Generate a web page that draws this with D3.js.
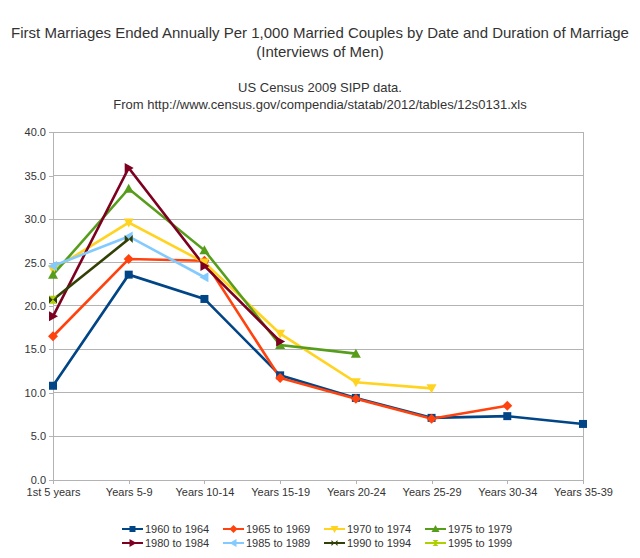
<!DOCTYPE html>
<html><head><meta charset="utf-8">
<script src="https://cdn.jsdelivr.net/npm/d3@7"></script>
<style>body{margin:0;background:#fff}svg{display:block}text{font-family:"Liberation Sans",Arial,sans-serif}</style>
</head><body><svg id="c" width="640" height="558"></svg>
<script>
const categories = ["1st 5 years","Years 5-9","Years 10-14","Years 15-19","Years 20-24","Years 25-29","Years 30-34","Years 35-39"];
const seriesNames = ["1960 to 1964","1965 to 1969","1970 to 1974","1975 to 1979","1980 to 1984","1985 to 1989","1990 to 1994","1995 to 1999"];
const s1960 = [10.8, 23.6, 20.8, 12.0, 9.4, 7.1, 7.3, 6.4];
const s1965 = [16.5, 25.4, 25.2, 11.7, 9.3, 7.0, 8.5];
const s1970 = [24.2, 29.6, 25.0, 16.8, 11.2, 10.5];
const s1975 = [23.6, 33.5, 26.4, 15.5, 14.5];
const s1980 = [18.8, 35.9, 24.6, 15.9];
const s1985 = [24.6, 28.0, 23.3];
const s1990 = [20.7, 27.7];
const s1995 = [20.7];
const yTicks = [0,5,10,15,20,25,30,35,40];
const colors = ["#004586","#ff420e","#ffd320","#579d1c","#7e0021","#83caff","#314004","#aecf00"];
const markers = ["square","diamond","down","up","right","left","bowtie","hourglass"];
const allSeries = [s1960,s1965,s1970,s1975,s1980,s1985,s1990,s1995];

const svg = d3.select("#c");
const x = d3.scalePoint().domain(categories).range([53,583]);
const y = d3.scaleLinear().domain([0,40]).range([479.5,132.3]);

// titles
const tc = "#333";
svg.append("text").attr("x",320).attr("y",38).attr("text-anchor","middle").attr("font-size",15).attr("fill",tc)
  .text("First Marriages Ended Annually Per 1,000 Married Couples by Date and Duration of Marriage");
svg.append("text").attr("x",320).attr("y",57).attr("text-anchor","middle").attr("font-size",15).attr("fill",tc)
  .text("(Interviews of Men)");
svg.append("text").attr("x",320).attr("y",92).attr("text-anchor","middle").attr("font-size",13).attr("fill",tc)
  .text("US Census 2009 SIPP data.");
svg.append("text").attr("x",320).attr("y",109).attr("text-anchor","middle").attr("font-size",13).attr("fill",tc)
  .text("From http://www.census.gov/compendia/statab/2012/tables/12s0131.xls");

// grid
svg.append("g").selectAll("line").data(yTicks.filter(d=>d>0)).join("line")
  .attr("x1",53).attr("x2",583).attr("y1",d=>y(d)).attr("y2",d=>y(d))
  .attr("stroke","#b3b3b3").attr("stroke-width",1).attr("shape-rendering","crispEdges");
svg.append("line").attr("x1",583).attr("x2",583).attr("y1",y(40)).attr("y2",y(0))
  .attr("stroke","#b3b3b3").attr("shape-rendering","crispEdges");

// axes
const yAxis = svg.append("g").attr("transform","translate(53,0)")
  .call(d3.axisLeft(y).tickValues(yTicks).tickFormat(d3.format(".1f")).tickSize(4).tickPadding(3));
const xAxis = svg.append("g").attr("transform",`translate(0,${y(0)})`)
  .call(d3.axisBottom(x).tickSize(4).tickPadding(5));
[yAxis,xAxis].forEach(g=>{
  g.select(".domain").attr("stroke","#b3b3b3").attr("shape-rendering","crispEdges");
  g.selectAll(".tick line").attr("stroke","#b3b3b3").attr("shape-rendering","crispEdges");
  g.selectAll("text").attr("font-family","Liberation Sans, Arial, sans-serif").attr("font-size",11).attr("fill","#333");
});

function markerPath(type, s) {
  const h = s/2;
  switch(type){
    case "square": return `M${-h},${-h}H${h}V${h}H${-h}Z`;
    case "diamond": return `M0,${-h-1}L${h+1},0L0,${h+1}L${-h-1},0Z`;
    case "down": return `M${-h-1},${-h}L${h+1},${-h}L0,${h+1}Z`;
    case "up": return `M${-h-1},${h}L${h+1},${h}L0,${-h-1}Z`;
    case "right": return `M${-h},${-h-1}L${-h},${h+1}L${h+1},0Z`;
    case "left": return `M${h},${-h-1}L${h},${h+1}L${-h-1},0Z`;
    case "bowtie": return `M${-h},${-h}L${h},${h}L${h},${-h}L${-h},${h}Z`;
    case "hourglass": return `M${-h},${-h}L${h},${-h}L${-h},${h}L${h},${h}Z`;
  }
}

const line = d3.line().x((d,i)=>x(categories[i])).y(d=>y(d));
const plot = svg.append("g");
allSeries.forEach((vals,k)=>{
  plot.append("path").datum(vals).attr("d",line).attr("fill","none")
    .attr("stroke",colors[k]).attr("stroke-width",2.6).attr("stroke-linejoin","miter");
});
allSeries.forEach((vals,k)=>{
  plot.append("g").selectAll("path").data(vals).join("path")
    .attr("transform",(d,i)=>`translate(${x(categories[i])},${y(d)})`)
    .attr("d",markerPath(markers[k],8)).attr("fill",colors[k]);
});

// legend
const leg = svg.append("g");
seriesNames.forEach((name,k)=>{
  const col = k%4, row = Math.floor(k/4);
  const lx = 122 + col*101, ly = 529 + row*14;
  leg.append("line").attr("x1",lx).attr("x2",lx+21).attr("y1",ly).attr("y2",ly)
    .attr("stroke",colors[k]).attr("stroke-width",2);
  leg.append("path").attr("transform",`translate(${lx+10.5},${ly})`).attr("d",markerPath(markers[k],6)).attr("fill",colors[k]);
  leg.append("text").attr("x",lx+23).attr("y",ly).attr("dy","0.35em").attr("font-size",11).attr("fill","#333").text(name);
});
</script></body></html>
